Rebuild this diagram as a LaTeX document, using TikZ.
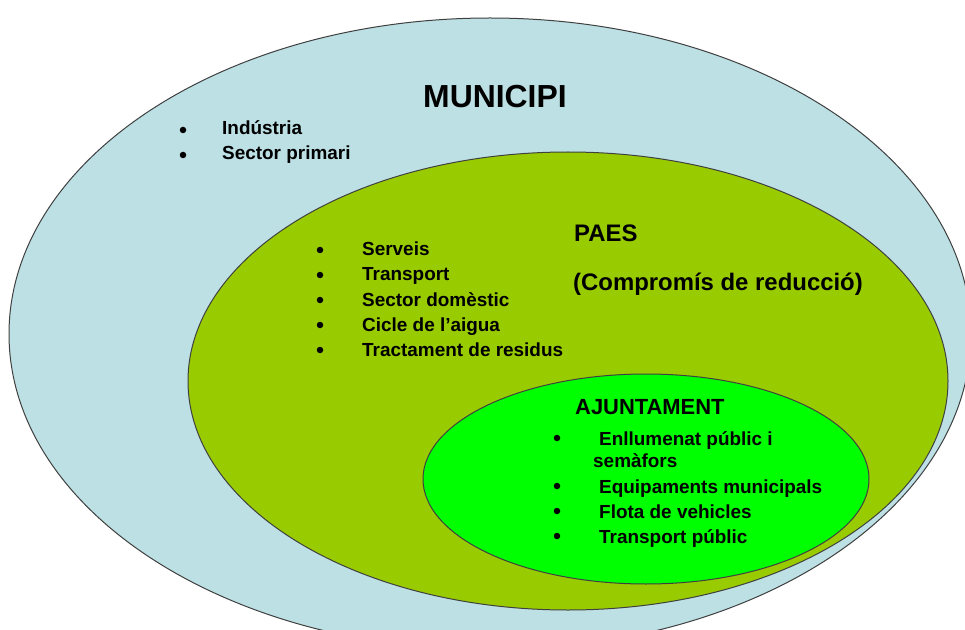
\documentclass[tikz,border=0pt]{standalone}
\usepackage{fontspec}
\setmainfont{Liberation Sans}
\definecolor{Municipi}{HTML}{BCE0E4}
\definecolor{Paes}{HTML}{99CC00}
\definecolor{Ajunt}{HTML}{00FF00}

\begin{document}
\begin{tikzpicture}[
  x=1bp, y=-1bp,
  zone/.style = {draw=black!75, line width=1bp, fill=#1},
  title/.style = {anchor=base west, inner sep=0pt,
                  font=\fontsize{#1}{#1}\selectfont\bfseries},
  item/.style = {anchor=base west, inner sep=0pt,
                 font=\fontsize{19}{19}\selectfont\bfseries},
  dot/.style = {circle, fill=black, inner sep=0pt, minimum size=6.5bp}
  ]
  \useasboundingbox (0,0) rectangle (965,630);
  \clip (0,0) rectangle (965,630);
  \draw[zone=Municipi] (490,334) ellipse [x radius=481, y radius=316];
  \draw[zone=Paes]     (568,381) ellipse [x radius=380, y radius=229];
  \draw[zone=Ajunt]    (646,479) ellipse [x radius=223, y radius=105];
  %
  \node[title=32] (municipi) at (423,108) {MUNICIPI};
  \foreach \txt [count=\i] in {Indústria, Sector primari} {
    \node[dot]  (mdot\i)  at (183,{130+25*(\i-1)}) {};
    \node[item] (mitem\i) at (222,{135+25*(\i-1)}) {\txt};
  }
  %
  \node[title=24] (paes) at (574,242) {PAES};
  \node[title=24] (compromis) at (573,290) {(Compromís de reducció)};
  \foreach \txt [count=\i] in {Serveis, Transport, Sector domèstic,
                               Cicle de l'aigua, Tractament de residus} {
    \node[dot]  (pdot\i)  at (320,{250+25*(\i-1)}) {};
    \node[item] (pitem\i) at (362,{256+25*(\i-1)}) {\txt};
  }
  %
  \node[title=22] (ajuntament) at (575,414) {AJUNTAMENT};
  \node[dot]  (adot1)  at (557,438) {};
  \node[item] (aitem1) at (599,445) {Enllumenat públic i};
  \node[item] (aitem1b) at (593,467) {semàfors};
  \foreach \txt [count=\i from 2] in {Equipaments municipals,
                                      Flota de vehicles, Transport públic} {
    \node[dot]  (adot\i)  at (557,{486+25*(\i-2)}) {};
    \node[item] (aitem\i) at (599,{493+25*(\i-2)}) {\txt};
  }
\end{tikzpicture}
\end{document}
